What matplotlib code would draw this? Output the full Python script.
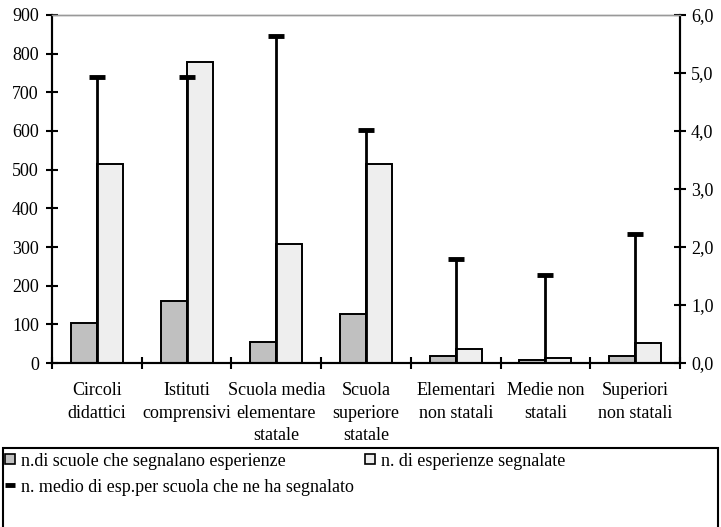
import numpy as np
import matplotlib
matplotlib.use("Agg")
import matplotlib.pyplot as plt
from matplotlib.lines import Line2D
from matplotlib.patches import Rectangle

plt.rcParams['font.family'] = ['Liberation Serif', 'DejaVu Serif']
plt.rcParams['font.size'] = 13

# Data
categories = ["Circoli\ndidattici", "Istituti\ncomprensivi", "Scuola media\nelementare\nstatale",
              "Scuola\nsuperiore\nstatale", "Elementari\nnon statali", "Medie non\nstatali",
              "Superiori\nnon statali"]
scuole = [103, 160, 55, 128, 19, 8, 19]
esperienze = [515, 779, 308, 515, 35, 14, 51]
media = [4.93, 4.93, 5.64, 4.02, 1.80, 1.52, 2.22]

dark = "#c0c0c0"
light = "#eeeeee"

fig = plt.figure(figsize=(7.21, 5.27), dpi=100)
ax = fig.add_axes([52 / 721, 164 / 527, 628 / 721, 348 / 527])
ax2 = ax.twinx()

x = np.arange(len(categories))
w = 0.29
ax.bar(x - w / 2, scuole, w, color=dark, edgecolor="black", linewidth=1.4, zorder=2)
ax.bar(x + w / 2, esperienze, w, color=light, edgecolor="black", linewidth=1.4, zorder=2)

ax2.vlines(x, 0, media, color="black", linewidth=2, zorder=3)
ax2.plot(x, media, linestyle="none", marker="_", markersize=11, markeredgewidth=3.5,
         color="black", zorder=3)

ax.set_xlim(-0.5, len(categories) - 0.5)
ax.set_ylim(0, 900)
ax2.set_ylim(0, 6)
ax.set_yticks(np.arange(0, 901, 100))
ax2.set_yticks(np.arange(0, 6.1, 1))
ax2.set_yticklabels([f"{v:.1f}".replace(".", ",") for v in np.arange(0, 6.1, 1)])

ax.set_xticks(np.arange(-0.5, len(categories)), labels=[""] * (len(categories) + 1))
ax.set_xticks(x, labels=categories, minor=True)
ax.tick_params(axis="x", which="major", direction="inout", length=9, width=1.5)
ax.tick_params(axis="x", which="minor", length=0, pad=14)
for lbl in ax.get_xticklabels(minor=True):
    lbl.set_linespacing(1.4)
ax.tick_params(axis="y", direction="inout", length=9, width=1.5, pad=5)
ax2.tick_params(axis="y", direction="inout", length=9, width=1.5, pad=3.5)

for a in (ax, ax2):
    a.spines["top"].set_color("#999999")
    a.spines["top"].set_linewidth(1)
    for s in ("left", "right", "bottom"):
        a.spines[s].set_linewidth(1.5)

# legend box, running off the bottom of the figure like in the reference
fig.patches.append(Rectangle((3 / 721, -0.05), 715 / 721, 0.05 + 79 / 527,
                             transform=fig.transFigure, facecolor="white",
                             edgecolor="black", linewidth=1.5))

sq_dark = Line2D([], [], linestyle="none", marker="s", markersize=7, markerfacecolor=dark,
                 markeredgecolor="black", markeredgewidth=1.2)
sq_light = Line2D([], [], linestyle="none", marker="s", markersize=7, markerfacecolor=light,
                  markeredgecolor="black", markeredgewidth=1.2)
dash = Line2D([], [], linestyle="none", marker="_", markersize=7, markeredgewidth=3.5,
              color="black")

common = dict(loc="upper left", frameon=False, handlelength=0.6, handletextpad=0.3,
              borderaxespad=0, borderpad=0.2)
fig.legend([sq_dark, sq_light],
           ["n.di scuole che segnalano esperienze", "n. di esperienze segnalate"],
           ncol=2, columnspacing=4.4, bbox_to_anchor=(1 / 721, 1 - 449 / 527), **common)
fig.legend([dash], ["n. medio di esp.per scuola che ne ha segnalato"],
           bbox_to_anchor=(1 / 721, 1 - 475 / 527), **common)

fig.savefig("out.png", dpi=100)
